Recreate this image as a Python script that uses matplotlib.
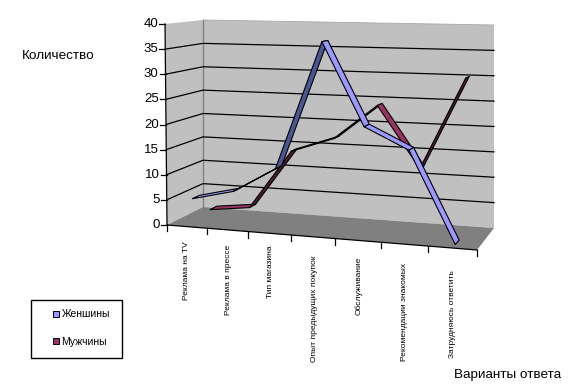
import numpy as np
import matplotlib
matplotlib.use("Agg")
import matplotlib.pyplot as plt
from matplotlib.patches import Polygon, Rectangle
from matplotlib.lines import Line2D

plt.rcParams['font.family'] = ['Liberation Sans', 'DejaVu Sans']

categories = ["Реклама на TV", "Реклама в прессе", "Тип магазина",
              "Опыт предыдущих покупок", "Обслуживание",
              "Рекомендации знакомых", "Затрудняюсь ответить"]
women = [5, 7, 12, 37, 21, 17, 0]
men = [1, 2, 14, 17, 24, 12, 30]
value_ticks = [0, 5, 10, 15, 20, 25, 30, 35, 40]
VMAX = 40

# Scene geometry: projected floor corners of the 3D box (FL, FR, BR, BL)
floor_q = [(167, 225), (477, 250), (494, 228), (203, 207)]
# wall height in pixels is a plane over the floor's pixel position
H_A, H_B, H_C = np.linalg.solve(np.array([[167, 225, 1], [203, 207, 1], [494, 228, 1]], float),
                                np.array([201, 187, 203], float))


def homography(q):
    src = [(0, 0), (1, 0), (1, 1), (0, 1)]
    A, b = [], []
    for (u, v), (x, y) in zip(src, q):
        A.append([u, v, 1, 0, 0, 0, -u * x, -v * x]); b.append(x)
        A.append([0, 0, 0, u, v, 1, -u * y, -v * y]); b.append(y)
    return np.append(np.linalg.solve(np.array(A, float), np.array(b, float)), 1).reshape(3, 3)


H_floor = homography(floor_q)


def P(u, v, val):
    p = H_floor @ np.array([u, v, 1.0])
    x, y = p[:2] / p[2]
    f = val / VMAX
    lean = -2 * (1 - u) * (1 - v) * f + 6 * f * np.sin(np.pi * u)
    return np.array([x + lean, y - (H_A * x + H_B * y + H_C) * f])


fig = plt.figure(figsize=(5.7, 3.92), dpi=100)
ax = fig.add_axes([0, 0, 1, 1])
ax.set_xlim(0, 570)
ax.set_ylim(392, 0)
ax.axis('off')

# walls and floor
wall = '#C0C0C0'
ax.add_patch(Polygon([P(0, 0, 0), P(0, 1, 0), P(0, 1, VMAX), P(0, 0, VMAX)], fc=wall, ec='none', zorder=1))
ax.add_patch(Polygon([P(0, 1, 0), P(1, 1, 0), P(1, 1, VMAX), P(0, 1, VMAX)], fc=wall, ec='none', zorder=1))
ax.add_patch(Polygon([P(0, 0, 0), P(1, 0, 0), P(1, 1, 0), P(0, 1, 0)], fc='#808080', ec='none', zorder=2))
ax.plot(*zip(P(0, 1, 0), P(0, 1, VMAX)), color='#808080', lw=1, zorder=2)
ax.plot(*zip(P(0, 1, VMAX), P(1, 1, VMAX)), color='#A8A8A8', lw=0.6, zorder=2)

# gridlines, axis lines and ticks
for val in value_ticks:
    if val not in (0, VMAX):
        ax.plot(*zip(P(0, 0, val), P(0, 1, val), P(1, 1, val)), color='black', lw=0.9, zorder=3)
    p = P(0, 0, val)
    ax.plot([p[0] - 6, p[0]], [p[1], p[1]], color='black', lw=0.9, zorder=3)
    ax.text(p[0] - 7, p[1], str(val), ha='right', va='center', fontsize=9.5, color='black')
ax.plot(*zip(P(0, 0, 0), P(0, 0, VMAX)), color='black', lw=0.9, zorder=3)
ax.plot(*zip(P(0, 0, 0), P(1, 0, 0)), color='black', lw=0.9, zorder=3)

n = len(categories)
label_x = [186, 228, 270, 314, 359, 404, 452]
label_top = [241, 245, 246, 256, 257, 263, 270]
for i in range(n + 1):
    p = P(i / n, 0, 0)
    ax.plot([p[0], p[0]], [p[1], p[1] + 6], color='black', lw=0.9, zorder=3)
for i, name in enumerate(categories):
    ax.text(label_x[i], label_top[i], name, rotation=90, ha='center', va='top', fontsize=6.0, color='black')


# ribbons
def ribbon(values, depth, light, dark, z):
    hw = 0.1
    for i in range(n - 1):
        u0, u1 = (i + .5) / n, (i + 1.5) / n
        a, b = P(u0, depth - hw, values[i]), P(u1, depth - hw, values[i + 1])
        c, d = P(u1, depth + hw, values[i + 1]), P(u0, depth + hw, values[i])
        seg, dep = b - a, d - a
        cross = seg[0] * dep[1] - seg[1] * dep[0]
        ax.add_patch(Polygon([a, b, c, d], fc=light if cross < 0 else dark, ec='black',
                             lw=0.8, joinstyle='round', zorder=z))


ribbon(men, 0.75, '#993366', '#4D1A33', 5)
ribbon(women, 0.25, '#9999FF', '#4B5694', 6)

# titles
ax.text(22, 56, "Количество", ha='left', va='center', fontsize=9.7, color='black', fontweight='medium')
ax.text(454, 375, "Варианты ответа", ha='left', va='center', fontsize=9.7, color='black')

# legend
ax.add_patch(Rectangle((31, 300), 91, 58, fc='white', ec='black', lw=1, zorder=4))
handles = [Line2D([], [], ls='none', marker='s', ms=4.5, mfc='#9999FF', mec='black', mew=0.7),
           Line2D([], [], ls='none', marker='s', ms=4.5, mfc='#993366', mec='black', mew=0.7)]
leg = ax.legend(handles, ["Женшины", "Мужчины"], loc='center', bbox_to_anchor=(81, 328),
                bbox_transform=ax.transData, frameon=False, fontsize=7.5, labelspacing=1.7,
                handlelength=0.8, handletextpad=0.1, borderpad=0, borderaxespad=0)
leg.set_zorder(5)

fig.savefig("out.png", dpi=100)
